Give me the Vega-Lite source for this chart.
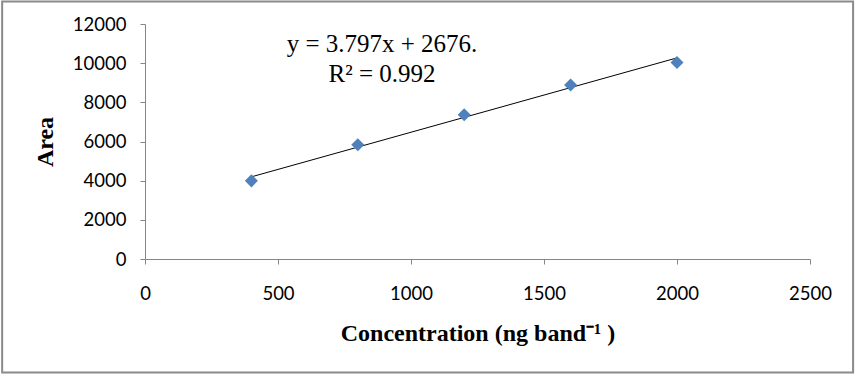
{
  "$schema": "https://vega.github.io/schema/vega-lite/v6.json",
  "width": 665,
  "height": 235,
  "autosize": "none",
  "padding": {"left": 145, "top": 24, "right": 46, "bottom": 115},
  "background": "white",
  "config": {
    "view": {"stroke": null},
    "axis": {
      "labelOverlap": false,
      "labelFlush": false,
      "grid": false,
      "domainColor": "#868686",
      "tickColor": "#868686",
      "tickSize": 5,
      "labelFont": "Lato",
      "labelFontSize": 18.5,
      "labelColor": "black",
      "format": "d",
      "titleFont": "Liberation Serif",
      "titleFontWeight": "bold",
      "titleColor": "black",
      "titleFontSize": 24,
      "titleBaseline": "middle",
      "titleAlign": "center"
    },
    "axisX": {"labelPadding": 20, "titleX": 332.5, "titleY": 74},
    "axisY": {"labelPadding": 14, "titleAngle": 270, "titleX": -100, "titleY": 117.5}
  },
  "data": {"values": [{}]},
  "datasets": {
    "points": [
      {"conc": 400, "area": 3990},
      {"conc": 800, "area": 5830},
      {"conc": 1200, "area": 7370},
      {"conc": 1600, "area": 8890},
      {"conc": 2000, "area": 10030}
    ],
    "trend": [
      {"conc": 400, "area": 4195},
      {"conc": 2000, "area": 10270}
    ]
  },
  "layer": [
    {
      "data": {"name": "trend"},
      "mark": {"type": "line", "color": "black", "strokeWidth": 1},
      "encoding": {
        "x": {
          "field": "conc", "type": "quantitative",
          "scale": {"domain": [0, 2500], "nice": false, "zero": false},
          "axis": {"values": [0, 500, 1000, 1500, 2000, 2500], "tickCount": 6, "title": "Concentration (ng band⁻¹ )"}
        },
        "y": {
          "field": "area", "type": "quantitative",
          "scale": {"domain": [0, 12000], "nice": false, "zero": false},
          "axis": {"values": [0, 2000, 4000, 6000, 8000, 10000, 12000], "tickCount": 7, "title": "Area"}
        }
      }
    },
    {
      "mark": {"type": "rect", "fill": null, "stroke": "#8a8a8a", "strokeWidth": 2, "clip": false},
      "encoding": {
        "x": {"datum": -537, "type": "quantitative",
          "axis": {"values": [0, 500, 1000, 1500, 2000, 2500], "tickCount": 6, "title": "Concentration (ng band⁻¹ )"}},
        "x2": {"datum": 2662},
        "y": {"datum": 13150, "type": "quantitative",
          "axis": {"values": [0, 2000, 4000, 6000, 8000, 10000, 12000], "tickCount": 7, "title": "Area"}},
        "y2": {"datum": -5790}
      }
    },
    {
      "data": {"name": "points"},
      "mark": {"type": "point", "shape": "diamond", "filled": true, "color": "#4F81BD", "opacity": 1, "size": 170},
      "encoding": {
        "x": {"field": "conc", "type": "quantitative",
          "axis": {"values": [0, 500, 1000, 1500, 2000, 2500], "tickCount": 6, "title": "Concentration (ng band⁻¹ )"}},
        "y": {"field": "area", "type": "quantitative",
          "axis": {"values": [0, 2000, 4000, 6000, 8000, 10000, 12000], "tickCount": 7, "title": "Area"}}
      }
    },
    {
      "mark": {"type": "text", "font": "Liberation Serif", "fontSize": 25, "color": "black", "align": "center", "baseline": "middle"},
      "encoding": {
        "x": {"datum": 891, "type": "quantitative",
          "axis": {"values": [0, 500, 1000, 1500, 2000, 2500], "tickCount": 6, "title": "Concentration (ng band⁻¹ )"}},
        "y": {"datum": 10979, "type": "quantitative",
          "axis": {"values": [0, 2000, 4000, 6000, 8000, 10000, 12000], "tickCount": 7, "title": "Area"}},
        "text": {"value": "y = 3.797x + 2676."}
      }
    },
    {
      "mark": {"type": "text", "font": "Liberation Serif", "fontSize": 25, "color": "black", "align": "center", "baseline": "middle"},
      "encoding": {
        "x": {"datum": 891, "type": "quantitative",
          "axis": {"values": [0, 500, 1000, 1500, 2000, 2500], "tickCount": 6, "title": "Concentration (ng band⁻¹ )"}},
        "y": {"datum": 9447, "type": "quantitative",
          "axis": {"values": [0, 2000, 4000, 6000, 8000, 10000, 12000], "tickCount": 7, "title": "Area"}},
        "text": {"value": "R² = 0.992"}
      }
    }
  ]
}
